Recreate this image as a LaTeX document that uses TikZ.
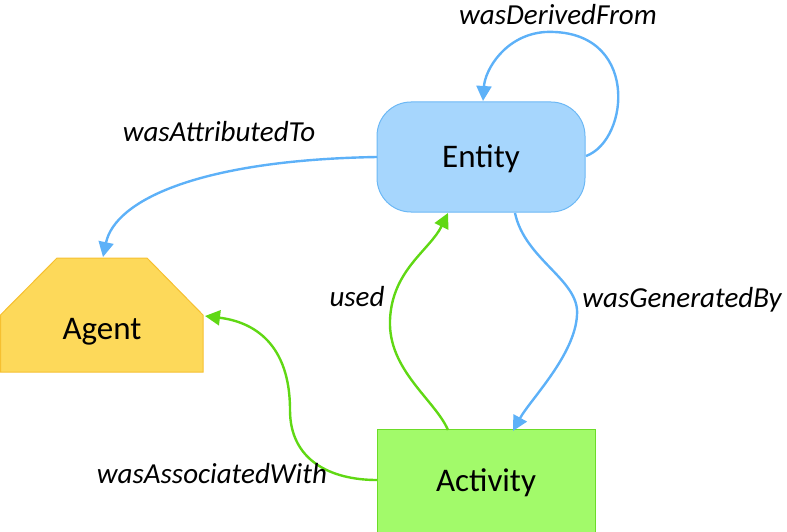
\documentclass[tikz,border=0pt]{standalone}
\usepackage{fontspec}
\setmainfont{Carlito}
\usetikzlibrary{arrows.meta}
\definecolor{entfill}{HTML}{A6D6FD}
\definecolor{entdraw}{HTML}{6CB8F5}
\definecolor{bluearr}{HTML}{5DB1F8}
\definecolor{agfill}{HTML}{FDD95A}
\definecolor{agdraw}{HTML}{F6C030}
\definecolor{actfill}{HTML}{A2FA6A}
\definecolor{actdraw}{HTML}{6CDC28}
\definecolor{greenarr}{HTML}{60D814}
\tikzset{
  nodetext/.style={font=\fontsize{33}{38}\selectfont, text=black},
  lbl/.style={font=\fontsize{29}{34}\selectfont\itshape, text=black},
  bluelink/.style={draw=bluearr, line width=2.4pt, -{Triangle[length=15pt,width=15pt]}},
  greenlink/.style={draw=greenarr, line width=2.4pt, -{Triangle[length=15pt,width=15pt]}},
}
\begin{document}
\begin{tikzpicture}[x=1pt,y=-1pt]
\useasboundingbox (0,0) rectangle (787,532);
% Entity
\node[draw=entdraw, fill=entfill, line width=1pt, rounded corners=34pt,
      minimum width=208pt, minimum height=110pt, inner sep=0pt] (entity) at (481,157) {};
\node[nodetext] (entitytext) at (481,159) {Entity};
% Agent
\path[fill=agfill, draw=agdraw, line width=1pt] (0.5,315) -- (57,258) -- (147,258) -- (203,315) -- (203,372) -- (0.5,372) -- cycle;
\node[nodetext] (agent) at (102,332) {Agent};
\coordinate (agtop) at (103,257);
\coordinate (agright) at (205,316);
% Activity
\node[draw=actdraw, fill=actfill, line width=1pt,
      minimum width=218pt, minimum height=103pt, inner sep=0pt] (activity) at (486,481) {};
\node[nodetext] (activitytext) at (486,483) {Activity};
% connectors
\coordinate (eright) at (586,156);
\coordinate (etop) at (483,101);
\draw[bluelink] (eright) .. controls (630,140) and (640,28) .. (545,32)
   .. controls (505,35) and (485,70) .. (etop);
\coordinate (eleft) at (377,157);
\draw[bluelink] (eleft) .. controls (200,160) and (115,200) .. (agtop);
\coordinate (ebot1) at (515,213);
\coordinate (acttop1) at (513,431);
\draw[bluelink] (ebot1) .. controls (525,260) and (580,280) .. (577,315)
   .. controls (575,355) and (530,400) .. (acttop1);
\coordinate (acttop2) at (448,430);
\coordinate (ebot2) at (448,213);
\draw[greenlink] (acttop2) .. controls (435,400) and (388,370) .. (390,320)
   .. controls (392,270) and (430,250) .. (ebot2);
\coordinate (actleft) at (377,480);
\draw[greenlink] (actleft) .. controls (330,480) and (290,460) .. (290,410)
   .. controls (290,345) and (255,322) .. (agright);
% labels
\node[lbl] (l1) at (558,15) {wasDerivedFrom};
\node[lbl] (l2) at (219,132) {wasAttributedTo};
\node[lbl] (l3) at (357,297) {used};
\node[lbl] (l4) at (682,300) {wasGeneratedBy};
\node[lbl] (l5) at (212,474) {wasAssociatedWith};
\end{tikzpicture}
\end{document}
